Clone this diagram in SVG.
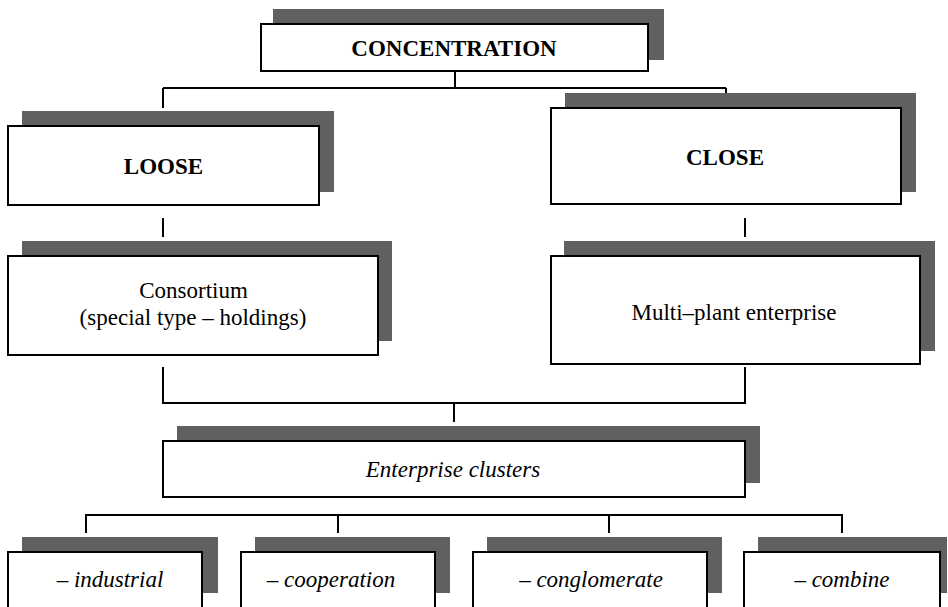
<svg xmlns="http://www.w3.org/2000/svg" width="948" height="607" viewBox="0 0 948 607">
  <style>
    .shadow { fill: #606060; }
    .box { fill: #ffffff; stroke: #000000; stroke-width: 2; }
    .conn { fill: none; stroke: #000000; stroke-width: 2; }
    .t { font-family: 'Liberation Serif', 'DejaVu Serif', serif; font-size: 23px; fill: #000000; text-anchor: middle; }
    .b { font-weight: bold; }
    .i { font-style: italic; }
  </style>
  <rect width="948" height="607" fill="#ffffff"/>

  <g id="connectors">
    <path class="conn" d="M455,71 V88 M163,88 H726 M163,88 V108 M726,88 V94"/>
    <path class="conn" d="M163,218 V237 M745,218 V237"/>
    <path class="conn" d="M163,367 V403 H745 V367 M454,403 V422"/>
    <path class="conn" d="M86,533 V515 H842 V533 M338,515 V533 M609,515 V533"/>
  </g>

  <g id="concentration">
    <rect class="shadow" x="273" y="9" width="391" height="51"/>
    <rect class="box" x="261" y="24" width="387" height="47"/>
    <text class="t b" x="454" y="56">CONCENTRATION</text>
  </g>

  <g id="loose">
    <rect class="shadow" x="22" y="111" width="312" height="81"/>
    <rect class="box" x="8" y="126" width="311" height="79"/>
    <text class="t b" x="163.5" y="174">LOOSE</text>
  </g>

  <g id="close">
    <rect class="shadow" x="565" y="93" width="351" height="99"/>
    <rect class="box" x="551" y="108" width="350" height="96"/>
    <text class="t b" x="725" y="165">CLOSE</text>
  </g>

  <g id="consortium">
    <rect class="shadow" x="22" y="241" width="370" height="100"/>
    <rect class="box" x="8" y="256" width="370" height="99"/>
    <text class="t" x="193.5" y="298">Consortium</text>
    <text class="t" x="193" y="325">(special type – holdings)</text>
  </g>

  <g id="multi-plant">
    <rect class="shadow" x="564" y="241" width="371" height="110"/>
    <rect class="box" x="551" y="256" width="369" height="108"/>
    <text class="t" x="734" y="320">Multi–plant enterprise</text>
  </g>

  <g id="clusters">
    <rect class="shadow" x="177" y="426" width="583" height="57"/>
    <rect class="box" x="163" y="441" width="582" height="56"/>
    <text class="t i" x="453" y="477">Enterprise clusters</text>
  </g>

  <g id="industrial">
    <rect class="shadow" x="22" y="537" width="196" height="56"/>
    <rect class="box" x="8" y="552" width="194" height="70"/>
    <text class="t i" x="110" y="587">– industrial</text>
  </g>

  <g id="cooperation">
    <rect class="shadow" x="255" y="537" width="195" height="56"/>
    <rect class="box" x="241" y="552" width="194" height="70"/>
    <text class="t i" x="331" y="587">– cooperation</text>
  </g>

  <g id="conglomerate">
    <rect class="shadow" x="487" y="537" width="235" height="56"/>
    <rect class="box" x="473" y="552" width="234" height="70"/>
    <text class="t i" x="591" y="587">– conglomerate</text>
  </g>

  <g id="combine">
    <rect class="shadow" x="758" y="537" width="189" height="56"/>
    <rect class="box" x="744" y="552" width="196" height="70"/>
    <text class="t i" x="842" y="587">– combine</text>
  </g>
</svg>
